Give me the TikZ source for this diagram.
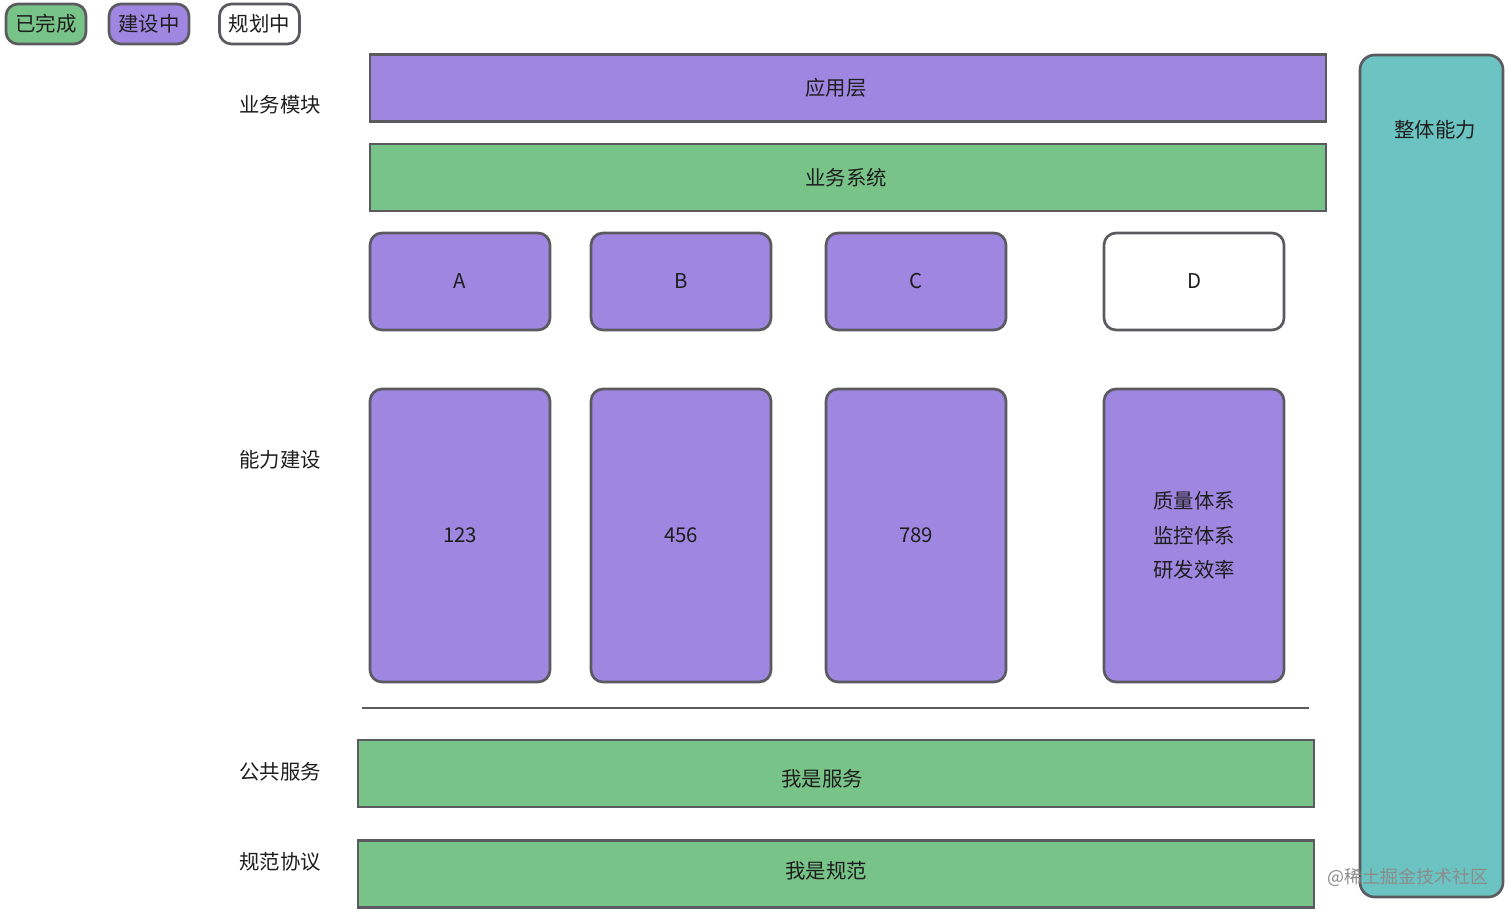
\documentclass[tikz,border=0pt]{standalone}
\usepackage{fontspec}
\setmainfont{Noto Sans CJK SC}
\usetikzlibrary{positioning}
\definecolor{doneGreen}{HTML}{78C387}
\definecolor{buildPurple}{HTML}{9F86E0}
\definecolor{wholeTeal}{HTML}{6CC4C2}
\definecolor{edgeGray}{HTML}{5B5A60}
\definecolor{inkDark}{HTML}{1E1E1E}
\definecolor{markGray}{HTML}{8C8C8C}

\tikzset{
  box/.style={draw=edgeGray, line width=2pt, inner sep=0pt, outer sep=0pt, text=inkDark},
  done/.style={box, fill=doneGreen},
  building/.style={box, fill=buildPurple},
  planned/.style={box, fill=white},
  legendbox/.style={rounded corners=9pt, minimum width=60pt, minimum height=30pt},
  bar/.style={minimum width=717pt, minimum height=50.25pt},
  modbox/.style={rounded corners=9pt, minimum width=135pt, minimum height=72.75pt},
  capbox/.style={rounded corners=9pt, minimum width=135pt, minimum height=219.75pt, align=center},
  bartext/.style={text=inkDark, inner sep=0pt},
  sidelabel/.style={text=inkDark}
}

\begin{document}
\begin{tikzpicture}[x=0.75pt, y=-0.75pt, font=\fontsize{15.3}{26}\selectfont]
\useasboundingbox (0,0) rectangle (1512,912);

% legend
\node[done, legendbox] (lgDone) at (46,24) {已完成};
\node[building, legendbox] (lgBuild) at (149,24) {建设中};
\node[planned, legendbox] (lgPlan) at (259.5,24) {规划中};

% left labels
\node[sidelabel] (lbModule) at (280,105) {业务模块};
\node[sidelabel] (lbCap) at (280,460) {能力建设};
\node[sidelabel] (lbPublic) at (280,772) {公共服务};
\node[sidelabel] (lbSpec) at (280,862) {规范协议};

% top layers
\node[building, bar, label={[bartext, xshift=-9pt]center:应用层}] (appLayer) at (848,88) {};
\node[done, bar, label={[bartext, xshift=-1.5pt]center:业务系统}] (bizSys) at (848,177.5) {};

% modules
\node[building, modbox] (modA) at (460,281.5) {A};
\node[building, modbox] (modB) at (681,281.5) {B};
\node[building, modbox] (modC) at (916,281.5) {C};
\node[planned, modbox] (modD) at (1194,281.5) {D};

% capabilities
\node[building, capbox] (capA) at (460,535.5) {123};
\node[building, capbox] (capB) at (681,535.5) {456};
\node[building, capbox] (capC) at (916,535.5) {789};
\node[building, capbox] (capD) at (1194,535.5) {质量体系\\监控体系\\研发效率};

% separator
\coordinate (sepL) at (362,708);
\coordinate (sepR) at (1309,708);
\draw[edgeGray, line width=2pt] (sepL) -- (sepR);

% bottom layers
\node[done, bar, label={[bartext, xshift=-10.5pt, yshift=-4pt]center:我是服务}] (service) at (836,773.5) {};
\node[done, bar, label={[bartext, xshift=-7.5pt, yshift=2.25pt]center:我是规范}] (spec) at (836,874) {};

% whole column
\node[box, fill=wholeTeal, rounded corners=11pt, minimum width=107.25pt, minimum height=631.5pt] (whole) at (1431.5,476) {};
\node[text=inkDark] (wholeText) at (1435,130) {整体能力};

% watermark
\node[text=markGray, font=\fontsize{13.5}{16}\selectfont] (mark) at (1408,877) {@稀土掘金技术社区};
\end{tikzpicture}
\end{document}
